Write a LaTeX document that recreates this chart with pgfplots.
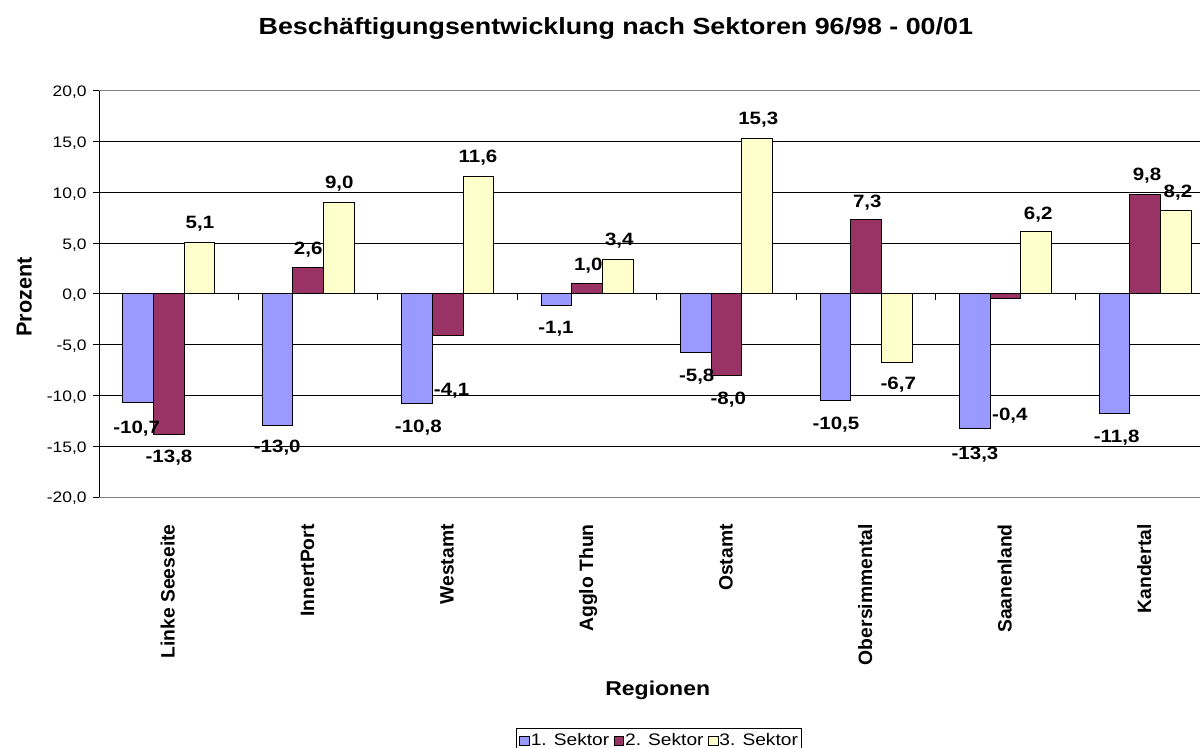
\documentclass[border=0pt]{standalone}
\usepackage{fontspec}
\setmainfont{Liberation Sans}
\newfontfamily\wfont[FakeStretch=1.15]{Liberation Sans}
\usepackage{pgfplots}
\pgfplotsset{compat=1.18}
\definecolor{c1}{HTML}{9999FF}
\definecolor{c2}{HTML}{993366}
\definecolor{c3}{HTML}{FFFFCC}
\begin{document}
\begin{tikzpicture}
\useasboundingbox (0,0) rectangle (720bp,448.8bp);
\begin{axis}[
  at={(59.4bp,150.6bp)}, anchor=south west,
  scale only axis, width=661.2bp, height=243.6bp,
  xmin=-0.5, xmax=7.4, ymin=-20, ymax=20,
  clip=false,
  axis line style={draw=gray, line width=0.6bp},
  xtick={0,1,2,3,4,5,6,7},
  xticklabels={Linke Seeseite, InnertPort, Westamt, Agglo Thun, Ostamt, Obersimmental, Saanenland, Kandertal},
  xtick style={draw=none},
  xticklabel style={font=\fontsize{11.6bp}{13bp}\selectfont\bfseries, rotate=90, anchor=east, inner sep=0pt, text height=0.72em, text depth=0pt},
  xticklabel shift=12.6bp,
  ytick={-20,-15,-10,-5,0,5,10,15,20},
  ytick pos=left, tick align=outside, major tick length=3.6bp,
  ytick style={black, line width=0.6bp},
  yticklabel shift=3.6bp,
  extra y ticks={-15,-10,-5,0,5,10,15},
  extra y tick style={grid=major, major tick length=0pt, yticklabel={}, major grid style={black, line width=0.6bp}},
  legend columns=3,
  legend style={at={(axis description cs:0.3787,-0.569)}, anchor=north west, draw=black, line width=0.6bp, font=\wfont\fontsize{10bp}{12bp}\selectfont, inner xsep=1.5bp, inner ysep=2.5bp, nodes={inner sep=0.6bp},
    /tikz/every even column/.append style={column sep=2bp}},
  yticklabel style={font=\wfont\fontsize{9.1bp}{10bp}\selectfont, inner sep=0pt, text height=0.716em, text depth=0pt, /pgf/number format/.cd, fixed, fixed zerofill, precision=1, use comma, assume math mode=true},
]
\addplot[ybar, bar width=0.219, bar shift=-0.219, fill=c1, draw=black, line width=0.6bp,
  legend image code/.code={\draw[fill=c1,draw=black,line width=0.5bp] (0bp,-2.9bp) rectangle (5.8bp,2.9bp);}]
  coordinates {(0,-10.7) (1,-13.0) (2,-10.8) (3,-1.1) (4,-5.8) (5,-10.5) (6,-13.3) (7,-11.8)};
\addlegendentry{1. Sektor}
\addplot[ybar, bar width=0.219, bar shift=0, fill=c2, draw=black, line width=0.6bp,
  legend image code/.code={\draw[fill=c2,draw=black,line width=0.5bp] (0bp,-2.9bp) rectangle (5.8bp,2.9bp);}]
  coordinates {(0,-13.8) (1,2.6) (2,-4.1) (3,1.0) (4,-8.0) (5,7.3) (6,-0.4) (7,9.8)};
\addlegendentry{2. Sektor}
\addplot[ybar, bar width=0.219, bar shift=0.219, fill=c3, draw=black, line width=0.6bp,
  legend image code/.code={\draw[fill=c3,draw=black,line width=0.5bp] (0bp,-2.9bp) rectangle (5.8bp,2.9bp);}]
  coordinates {(0,5.1) (1,9.0) (2,11.6) (3,3.4) (4,15.3) (5,-6.7) (6,6.2) (7,8.2)};
\addlegendentry{3. Sektor}
\addplot[draw=none, mark=none, forget plot, nodes near coords, point meta=explicit symbolic,
  nodes near coords style={anchor=center, font=\wfont\fontsize{10.7bp}{12bp}\selectfont\bfseries, inner sep=0pt, text height=0.716em, text depth=0pt}]
  table[meta=lab] {
x y lab
-0.230 -13.13 -10,7
0.002 -16.06 -13,8
0.224 7.00 5,1
0.778 -15.04 -13,0
1.000 4.50 2,6
1.223 10.97 9,0
1.789 -13.07 -10,8
2.028 -9.46 -4,1
2.217 13.50 11,6
2.776 -3.35 -1,1
3.008 2.86 1,0
3.230 5.39 3,4
3.785 -8.08 -5,8
4.011 -10.28 -8,0
4.226 17.31 15,3
4.783 -12.74 -10,5
5.008 9.09 7,3
5.230 -8.87 -6,7
5.780 -15.69 -13,3
6.030 -11.92 -0,4
6.233 7.95 6,2
6.795 -14.06 -11,8
7.013 11.72 9,8
7.235 10.05 8,2
};
\draw[black, line width=0.6bp] (axis description cs:0,0) -- (axis description cs:0,1);
\pgfplotsinvokeforeach{0.5,1.5,2.5,3.5,4.5,5.5,6.5}{
  \draw[black, line width=0.6bp] (axis cs:#1,0) -- ([yshift=-3.6bp]axis cs:#1,0);
}
\node[font=\wfont\fontsize{14bp}{16bp}\selectfont\bfseries, anchor=base] at (axis description cs:0.469,1.138) {Beschäftigungsentwicklung nach Sektoren 96/98 - 00/01};
\node[font=\wfont\fontsize{12bp}{14bp}\selectfont\bfseries, anchor=base] at (axis description cs:0.507,-0.490) {Regionen};
\node[font=\fontsize{13bp}{15bp}\selectfont\bfseries, anchor=base, rotate=90] at (axis description cs:-0.0611,0.4926) {Prozent};
\end{axis}
\end{tikzpicture}
\end{document}
